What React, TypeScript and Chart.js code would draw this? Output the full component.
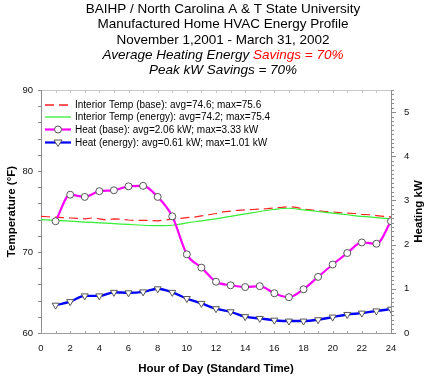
import React, { useEffect, useRef } from "react";
import { Chart, registerables } from "chart.js";

Chart.register(...registerables);

// ---------- data ----------
const heatHours = [1, 2, 3, 4, 5, 6, 7, 8, 9, 10, 11, 12, 13, 14, 15, 16, 17, 18, 19, 20, 21, 22, 23, 24];
const heatBase = [2.53, 3.13, 3.08, 3.21, 3.23, 3.32, 3.33, 3.08, 2.64, 1.78, 1.48, 1.16, 1.08, 1.04, 1.06, 0.9, 0.81, 0.99, 1.27, 1.55, 1.81, 2.05, 2.02, 2.53];
const heatEnergy = [0.63, 0.71, 0.84, 0.84, 0.92, 0.91, 0.93, 1.0, 0.92, 0.78, 0.67, 0.55, 0.48, 0.37, 0.33, 0.29, 0.27, 0.27, 0.3, 0.36, 0.42, 0.45, 0.5, 0.54];

const tempBaseHours = [0, 0.5, 1, 1.5, 2, 2.5, 3, 3.5, 4, 4.5, 5, 5.5, 6, 6.5, 7, 7.5, 8, 8.5, 9, 9.5, 10, 10.5, 11, 11.5, 12, 12.5, 13, 13.5, 14, 14.5, 15, 15.5, 16, 16.5, 17, 17.5, 18, 18.5, 19, 19.5, 20, 20.5, 21, 21.5, 22, 22.5, 23, 23.5, 24];
const tempBase = [74.4, 74.35, 74.3, 74.25, 74.2, 74.15, 74.1, 74.2, 74.1, 73.95, 74.1, 74.05, 73.95, 73.9, 73.9, 73.9, 73.85, 73.95, 74.05, 74.15, 74.25, 74.3, 74.45, 74.6, 74.75, 74.95, 75.05, 75.15, 75.2, 75.25, 75.3, 75.35, 75.45, 75.5, 75.6, 75.5, 75.3, 75.2, 75.1, 75.0, 74.95, 74.85, 74.8, 74.75, 74.65, 74.6, 74.5, 74.4, 74.35];

const tempEnergyHours = [0, 1, 2, 3, 4, 5, 6, 7, 8, 9, 10, 11, 12, 13, 14, 15, 16, 17, 18, 19, 20, 21, 22, 23, 24];
const tempEnergy = [74.0, 73.9, 73.8, 73.7, 73.6, 73.5, 73.4, 73.3, 73.25, 73.3, 73.6, 73.85, 74.1, 74.4, 74.7, 75.0, 75.25, 75.4, 75.2, 75.0, 74.8, 74.6, 74.4, 74.25, 74.1];

const seriesLabels = [
  "Interior Temp (base): avg=74.6; max=75.6",
  "Interior Temp (energy): avg=74.2; max=75.4",
  "Heat (base): avg=2.06 kW; max=3.33 kW",
  "Heat (energy): avg=0.61 kW; max=1.01 kW",
];
const seriesColors = ["#ff2020", "#33ee33", "#ff00ff", "#0000ff"];

const titleLines = [
  "BAIHP / North Carolina A & T State University",
  "Manufactured Home HVAC Energy Profile",
  "November 1,2001 - March 31, 2002",
];
const titleLine4a = "Average Heating Energy ";
const titleLine4b = "Savings = 70%";
const titleLine5 = "Peak kW Savings = 70%";

const xTitle = "Hour of Day (Standard Time)";
const yTitle = "Temperature (°F)";
const y1Title = "Heating kW";

const FONT = "'Liberation Sans', Arial, sans-serif";

const pts = (xs: number[], ys: number[]) => xs.map((x, i) => ({ x, y: ys[i] }));

const decorPlugin = {
  id: "decor",
  beforeDatasetsDraw(chart: any) {
    const ctx = chart.ctx as CanvasRenderingContext2D;
    const { left, right, top, bottom } = chart.chartArea;
    const xs = chart.scales.x;
    const ys = chart.scales.y;
    const y1 = chart.scales.y1;
    ctx.save();
    ctx.lineWidth = 1;
    ctx.strokeStyle = "#c8c8c8";
    ctx.beginPath();
    ctx.moveTo(left, top + 0.5);
    ctx.lineTo(right, top + 0.5);
    ctx.stroke();
    for (let h = 0; h <= 24; h++) {
      const px = Math.round(xs.getPixelForValue(h)) + 0.5;
      ctx.beginPath();
      ctx.moveTo(px, top);
      ctx.lineTo(px, top + 3);
      ctx.stroke();
    }
    ctx.strokeStyle = "#8c8c8c";
    ctx.beginPath();
    ctx.moveTo(left + 0.5, top);
    ctx.lineTo(left + 0.5, bottom);
    ctx.stroke();
    for (let t = 60; t <= 90; t += 2) {
      const py = Math.round(ys.getPixelForValue(t)) + 0.5;
      ctx.beginPath();
      ctx.moveTo(left - 3, py);
      ctx.lineTo(left, py);
      ctx.stroke();
    }
    ctx.strokeStyle = "#a0a0a0";
    ctx.beginPath();
    ctx.moveTo(left, bottom + 0.5);
    ctx.lineTo(right, bottom + 0.5);
    ctx.stroke();
    for (let h = 0; h <= 24; h++) {
      const px = Math.round(xs.getPixelForValue(h)) + 0.5;
      ctx.beginPath();
      ctx.moveTo(px, bottom - 2);
      ctx.lineTo(px, bottom);
      ctx.stroke();
    }
    ctx.strokeStyle = "#8c8c8c";
    ctx.beginPath();
    ctx.moveTo(right + 0.5, top);
    ctx.lineTo(right + 0.5, bottom + 1);
    ctx.stroke();
    for (let k = 0; k <= 55; k++) {
      const py = Math.round(y1.getPixelForValue(k / 10)) + 0.5;
      const len = k % 10 === 0 ? 5 : 3;
      ctx.beginPath();
      ctx.moveTo(right, py);
      ctx.lineTo(right + len, py);
      ctx.stroke();
    }
    ctx.restore();
  },
  afterDraw(chart: any) {
    const ctx = chart.ctx as CanvasRenderingContext2D;
    const { left, right, top, bottom } = chart.chartArea;
    ctx.save();
    const cx = 223;
    ctx.fillStyle = "#000";
    ctx.textBaseline = "middle";
    ctx.textAlign = "center";
    ctx.font = `13.5px ${FONT}`;
    titleLines.forEach((t, i) => ctx.fillText(t, cx, 9.5 + i * 15.2));
    ctx.font = `italic 13.5px ${FONT}`;
    const wa = ctx.measureText(titleLine4a).width;
    const wb = ctx.measureText(titleLine4b).width;
    const sx = cx - (wa + wb) / 2;
    ctx.textAlign = "left";
    ctx.fillText(titleLine4a, sx, 9.5 + 3 * 15.2);
    ctx.fillStyle = "#ff0000";
    ctx.fillText(titleLine4b, sx + wa, 9.5 + 3 * 15.2);
    ctx.fillStyle = "#000";
    ctx.textAlign = "center";
    ctx.fillText(titleLine5, cx, 9.5 + 4 * 15.2);

    ctx.font = `bold 11.5px ${FONT}`;
    ctx.fillText(xTitle, (left + right) / 2, 369);
    ctx.save();
    ctx.translate(11.5, (top + bottom) / 2);
    ctx.rotate(-Math.PI / 2);
    ctx.fillText(yTitle, 0, 0);
    ctx.restore();
    ctx.save();
    ctx.translate(418.5, (top + bottom) / 2);
    ctx.rotate(-Math.PI / 2);
    ctx.fillText(y1Title, 0, 0);
    ctx.restore();

    // Legend
    ctx.font = `10px ${FONT}`;
    ctx.textAlign = "left";
    const rows = [105, 117, 129.5, 142.5];
    const widths = [1.3, 1.3, 2.2, 2.2];
    const dashes = [[9, 5], [], [], []];
    rows.forEach((yy, i) => {
      ctx.save();
      ctx.strokeStyle = seriesColors[i];
      ctx.lineWidth = widths[i];
      ctx.setLineDash(dashes[i]);
      ctx.beginPath();
      ctx.moveTo(left + 4, yy);
      ctx.lineTo(left + 30, yy);
      ctx.stroke();
      ctx.setLineDash([]);
      const mx = left + 17;
      if (i === 2) {
        ctx.fillStyle = "#fff";
        ctx.strokeStyle = "#555";
        ctx.lineWidth = 1;
        ctx.beginPath();
        ctx.arc(mx, yy, 3.5, 0, Math.PI * 2);
        ctx.fill();
        ctx.stroke();
      } else if (i === 3) {
        ctx.fillStyle = "#fff";
        ctx.strokeStyle = "#555";
        ctx.lineWidth = 1;
        ctx.beginPath();
        ctx.moveTo(mx - 4, yy - 2.5);
        ctx.lineTo(mx + 4, yy - 2.5);
        ctx.lineTo(mx, yy + 4);
        ctx.closePath();
        ctx.fill();
        ctx.stroke();
      }
      ctx.restore();
      ctx.fillStyle = "#000";
      ctx.fillText(seriesLabels[i], left + 34, Math.round(yy) + 0.5);
    });
    ctx.restore();
  },
};

export default function App() {
  const ref = useRef<HTMLCanvasElement | null>(null);
  useEffect(() => {
    document.body.style.margin = "0";
    if (!ref.current) return;
    const chart = new Chart(ref.current, {
      type: "line",
      data: {
        datasets: [
          {
            label: seriesLabels[0],
            data: pts(tempBaseHours, tempBase),
            yAxisID: "y",
            borderColor: seriesColors[0],
            borderWidth: 1.2,
            borderDash: [9, 5],
            pointRadius: 0,
            tension: 0,
            order: 3,
          },
          {
            label: seriesLabels[1],
            data: pts(tempEnergyHours, tempEnergy),
            yAxisID: "y",
            borderColor: seriesColors[1],
            borderWidth: 1.2,
            pointRadius: 0,
            cubicInterpolationMode: "monotone",
            order: 2,
          },
          {
            label: seriesLabels[2],
            data: pts(heatHours, heatBase),
            yAxisID: "y1",
            borderColor: seriesColors[2],
            borderWidth: 2.2,
            pointRadius: 3.5,
            pointStyle: "circle",
            pointBackgroundColor: "#ffffff",
            pointBorderColor: "#555555",
            pointBorderWidth: 1,
            cubicInterpolationMode: "monotone",
            order: 1,
          },
          {
            label: seriesLabels[3],
            data: pts(heatHours, heatEnergy),
            yAxisID: "y1",
            borderColor: seriesColors[3],
            borderWidth: 2.4,
            pointRadius: 4,
            pointStyle: "triangle",
            pointRotation: 180,
            pointBackgroundColor: "#ffffff",
            pointBorderColor: "#555555",
            pointBorderWidth: 1,
            cubicInterpolationMode: "monotone",
            order: 0,
          },
        ] as any,
      },
      options: {
        responsive: false,
        animation: false,
        devicePixelRatio: 1,
        layout: { padding: { top: 90, left: 0, right: 0, bottom: 0 } },
        plugins: {
          legend: { display: false },
          title: { display: false },
          tooltip: { enabled: false },
        },
        scales: {
          x: {
            type: "linear",
            min: 0,
            max: 24,
            grid: { display: false, drawTicks: false },
            border: { display: false },
            ticks: {
              stepSize: 2,
              padding: 10,
              color: "#111",
              font: { family: FONT, size: 9.5 },
              maxRotation: 0,
            },
            afterFit: (s: any) => {
              s.height = 45;
            },
          },
          y: {
            type: "linear",
            position: "left",
            min: 60,
            max: 90,
            grid: { display: false, drawTicks: false },
            border: { display: false },
            ticks: {
              stepSize: 10,
              padding: 8,
              color: "#111",
              font: { family: FONT, size: 9.5 },
            },
            afterFit: (s: any) => {
              s.width = 41;
            },
          },
          y1: {
            type: "linear",
            position: "right",
            min: 0,
            max: 5.5,
            grid: { display: false, drawTicks: false },
            border: { display: false },
            ticks: {
              stepSize: 1,
              includeBounds: false,
              padding: 13,
              color: "#111",
              font: { family: FONT, size: 9.5 },
              callback: (v: any) => (Number.isInteger(v) ? String(v) : ""),
            },
            afterFit: (s: any) => {
              s.width = 38;
            },
          },
        },
      } as any,
      plugins: [decorPlugin],
    });
    return () => chart.destroy();
  }, []);
  return (
    <div style={{ width: 429, height: 378 }}>
      <canvas ref={ref} width={429} height={378} style={{ display: "block", width: 429, height: 378 }} />
    </div>
  );
}
